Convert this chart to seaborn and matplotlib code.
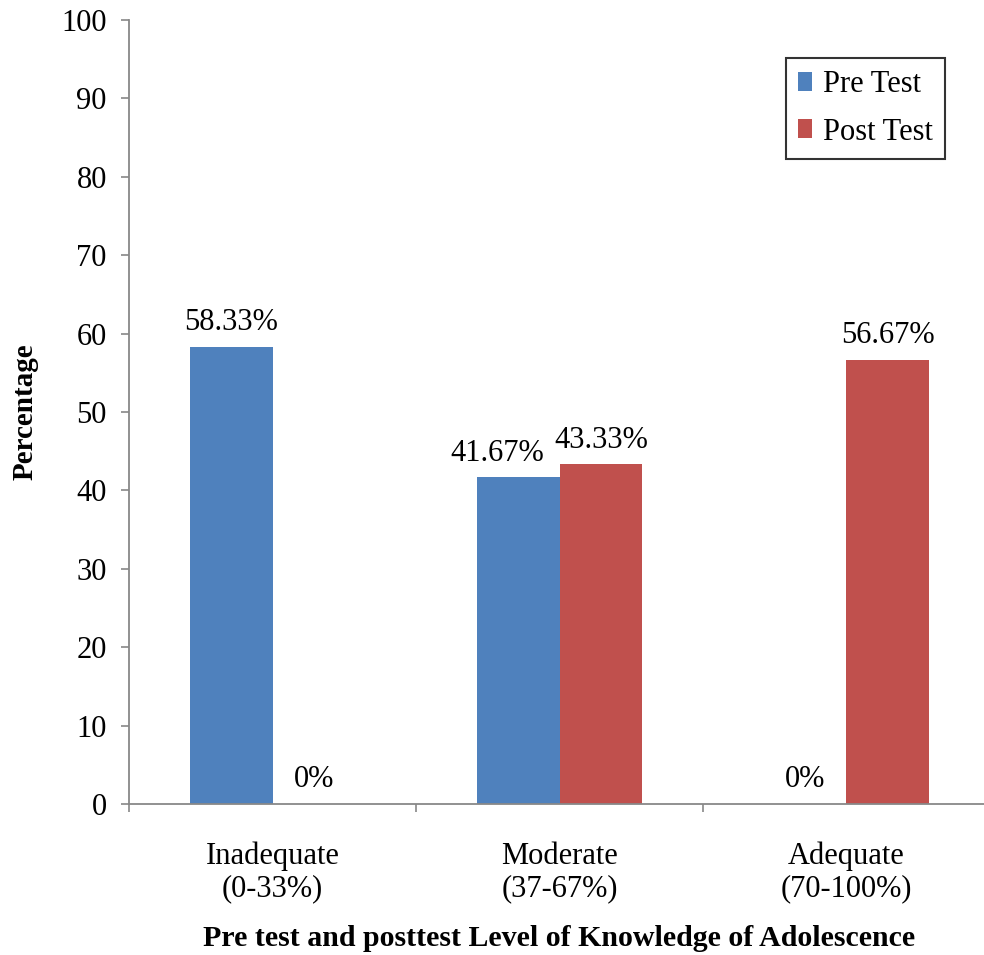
import matplotlib
matplotlib.use("Agg")
import matplotlib.pyplot as plt
import seaborn as sns
import pandas as pd

# Knowledge levels and percentages of adolescents in each level
levels = ["Inadequate\n(0-33%)", "Moderate\n(37-67%)", "Adequate\n(70-100%)"]
pre_test = [58.33, 41.67, 0.0]
post_test = [0.0, 43.33, 56.67]
series = ["Pre Test", "Post Test"]
colors = ["#4F81BD", "#C0504D"]
y_ticks = [0, 10, 20, 30, 40, 50, 60, 70, 80, 90, 100]

df = pd.DataFrame({
    "level": levels * 2,
    "value": pre_test + post_test,
    "test": [series[0]] * len(levels) + [series[1]] * len(levels),
})

sns.set_theme(style="white")
plt.rcParams["font.family"] = ["Liberation Serif", "DejaVu Serif"]
plt.rcParams["text.color"] = "black"
plt.rcParams["xtick.labelcolor"] = "black"
plt.rcParams["ytick.labelcolor"] = "black"
plt.rcParams["axes.labelcolor"] = "black"

fig = plt.figure(figsize=(9.84, 9.55), dpi=100)
W, H = 984, 955
ax = fig.add_axes([129 / W, (H - 804) / H, 861 / W, 784 / H])

sns.barplot(data=df, x="level", y="value", hue="test", palette=colors,
            width=0.578, saturation=1, ax=ax, order=levels, hue_order=series,
            edgecolor="none", linewidth=0)

label_sets = []
for cont in ax.containers:
    label_sets.append(ax.bar_label(cont, labels=[f"{v:g}%" for v in cont.datavalues],
                                   padding=7, fontsize=22, color="black"))

# nudge the left label aside where both bars of a group carry labels side by side
for i, (a, b) in enumerate(zip(pre_test, post_test)):
    if a > 0 and b > 0:
        ann = label_sets[0][i]
        x0, y0 = ann.xyann
        ann.xyann = (x0 - 15, y0)

ax.set_xlim(-0.5, 2.5)
ax.set_ylim(0, 100)
ax.set_yticks(y_ticks)
ax.set_yticklabels([str(t) for t in y_ticks], fontsize=22, color="black")

# category labels centered, tick marks on the boundaries
ax.set_xticks([-0.5, 0.5, 1.5, 2.5])
ax.set_xticklabels([])
ax.set_xticks([0, 1, 2], minor=True)
ax.set_xticklabels(levels, minor=True, fontsize=22, linespacing=1.15, color="black")
ax.tick_params(axis="x", which="minor", length=0, pad=27)
ax.tick_params(axis="x", which="major", length=6, width=1.2, color="#888888", direction="out", bottom=True)
ax.tick_params(axis="y", length=6, width=1.2, color="#888888", direction="out", left=True, pad=10)

for s in ["top", "right"]:
    ax.spines[s].set_visible(False)
for s in ["left", "bottom"]:
    ax.spines[s].set_color("#888888")
    ax.spines[s].set_linewidth(1.3)

ax.set_xlabel("Pre test and posttest Level of Knowledge of Adolescence",
              fontsize=21.5, fontweight="bold", color="black", va="center")
ax.xaxis.set_label_coords(0.5, (804 - 938) / 784)
ax.set_ylabel("Percentage", fontsize=21, fontweight="bold", color="black", va="center")
ax.yaxis.set_label_coords((25 - 129) / 861, 0.5)

leg = ax.legend(loc="upper right", bbox_to_anchor=(945 / W, (H - 58) / H),
                bbox_transform=fig.transFigure, fontsize=22, frameon=True,
                fancybox=False, edgecolor="black", handlelength=0.47,
                handleheight=0.6, handletextpad=0.35, borderpad=0.4,
                labelspacing=0.6, borderaxespad=0)
leg.get_frame().set_linewidth(1.5)
for t in leg.get_texts():
    t.set_color("black")

fig.savefig("out.png", dpi=100, facecolor="white")
